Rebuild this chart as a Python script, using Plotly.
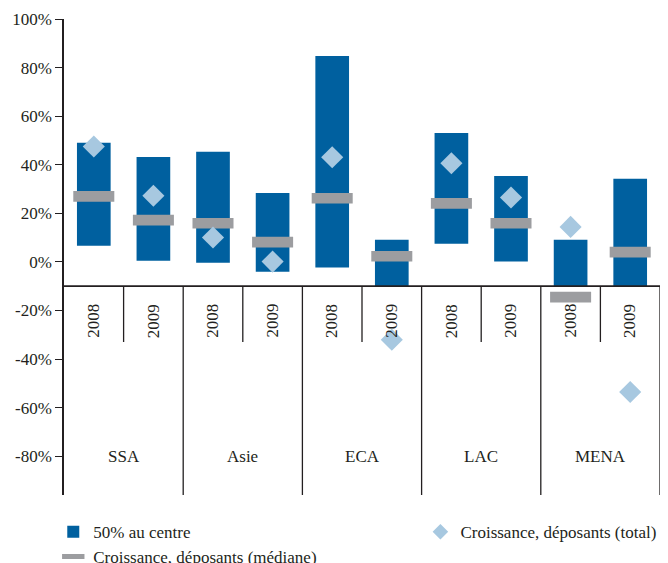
import plotly.graph_objects as go

groups = ["SSA", "Asie", "ECA", "LAC", "MENA"]
years = ["2008", "2009"]

# Values (%)
iqr_top = [49.0, 43.2, 45.3, 28.4, 84.8, 9.1, 53.1, 35.4, 9.1, 34.2]
iqr_bottom = [6.6, 0.5, -0.4, -4.1, -2.3, -10.0, 7.5, 0.1, -10.0, -10.0]
median = [27.0, 17.2, 15.9, 8.1, 26.2, 2.3, 24.1, 15.9, -14.5, 4.0]
total = [47.5, 27.2, 10.0, 0.1, 43.1, -32.1, 40.6, 26.5, 14.4, -53.6]

y_ticks = [-80, -60, -40, -20, 0, 20, 40, 60, 80, 100]
y_tick_labels = [f"{v}%" for v in y_ticks]
y_range = [-96, 100]
axis_cross = -10
inner_sep_bottom = -33
year_label_y = -24.3
group_label_y = -80

BLUE = "#00609F"
GRAY = "#9C9DA0"
LIGHT = "#A7C8E0"
INK = "#231F20"
FONT = "'Liberation Serif', 'Times New Roman', serif"

n = len(groups) * len(years)
xs = list(range(n))

fig = go.Figure()
fig.add_trace(go.Bar(
    x=xs, y=[t - b for t, b in zip(iqr_top, iqr_bottom)], base=iqr_bottom,
    width=0.565, marker=dict(color=BLUE, line=dict(width=0)),
    name="50% au centre", legend="legend",
))
fig.add_trace(go.Scatter(
    x=xs, y=median, mode="markers",
    marker=dict(symbol="line-ew", size=29.3, color=GRAY,
                line=dict(color=GRAY, width=10.7)),
    name="Croissance, déposants (médiane)", legend="legend2",
))
fig.add_trace(go.Scatter(
    x=xs, y=total, mode="markers",
    marker=dict(symbol="diamond", size=17, color=LIGHT, line=dict(width=0)),
    name="Croissance, déposants (total)", legend="legend3",
))

shapes = []
shapes.append(dict(type="line", xref="x", yref="y", x0=-0.5, x1=n - 0.5,
                   y0=axis_cross, y1=axis_cross, line=dict(color=INK, width=1.6)))
for i in range(1, n + 1):
    bottom = y_range[0] if i % 2 == 0 else inner_sep_bottom
    shapes.append(dict(type="line", xref="x", yref="y", x0=i - 0.5, x1=i - 0.5,
                       y0=axis_cross, y1=bottom, line=dict(color=INK, width=1.3)))

annotations = []
for i in range(n):
    annotations.append(dict(x=i, y=year_label_y, xref="x", yref="y",
                            text=years[i % 2], textangle=-90, showarrow=False,
                            font=dict(family=FONT, size=17, color=INK)))
for g, name in enumerate(groups):
    annotations.append(dict(x=2 * g + 0.5, y=group_label_y, xref="x", yref="y",
                            text=name, showarrow=False,
                            font=dict(family=FONT, size=17, color=INK)))

legend_common = dict(font=dict(family=FONT, size=17, color=INK),
                     bgcolor="rgba(0,0,0,0)", borderwidth=0,
                     xanchor="left", yanchor="middle")

fig.update_layout(
    width=668, height=563,
    font=dict(family=FONT, size=17, color=INK),
    margin=dict(l=64, r=8, t=19, b=68, autoexpand=False),
    plot_bgcolor="white", paper_bgcolor="white",
    barmode="overlay",
    showlegend=True,
    legend=dict(x=-0.018, y=-0.078, **legend_common),
    legend2=dict(x=-0.018, y=-0.13, **legend_common),
    legend3=dict(x=0.598, y=-0.078, itemsizing="constant", **legend_common),
    xaxis=dict(range=[-0.5, n - 0.5], visible=False, fixedrange=True),
    yaxis=dict(range=y_range, tickmode="array", tickvals=y_ticks,
               ticktext=y_tick_labels, fixedrange=True,
               showgrid=False, zeroline=False, showline=True,
               linecolor=INK, linewidth=1.6, ticks="outside", ticklen=7,
               tickcolor=INK, tickwidth=1.3,
               tickfont=dict(family=FONT, size=17, color=INK)),
    shapes=shapes, annotations=annotations,
)

fig.write_html("out.html",
               config={"displayModeBar": False},
               post_script="document.body.style.margin='0';document.body.style.overflow='hidden';")
